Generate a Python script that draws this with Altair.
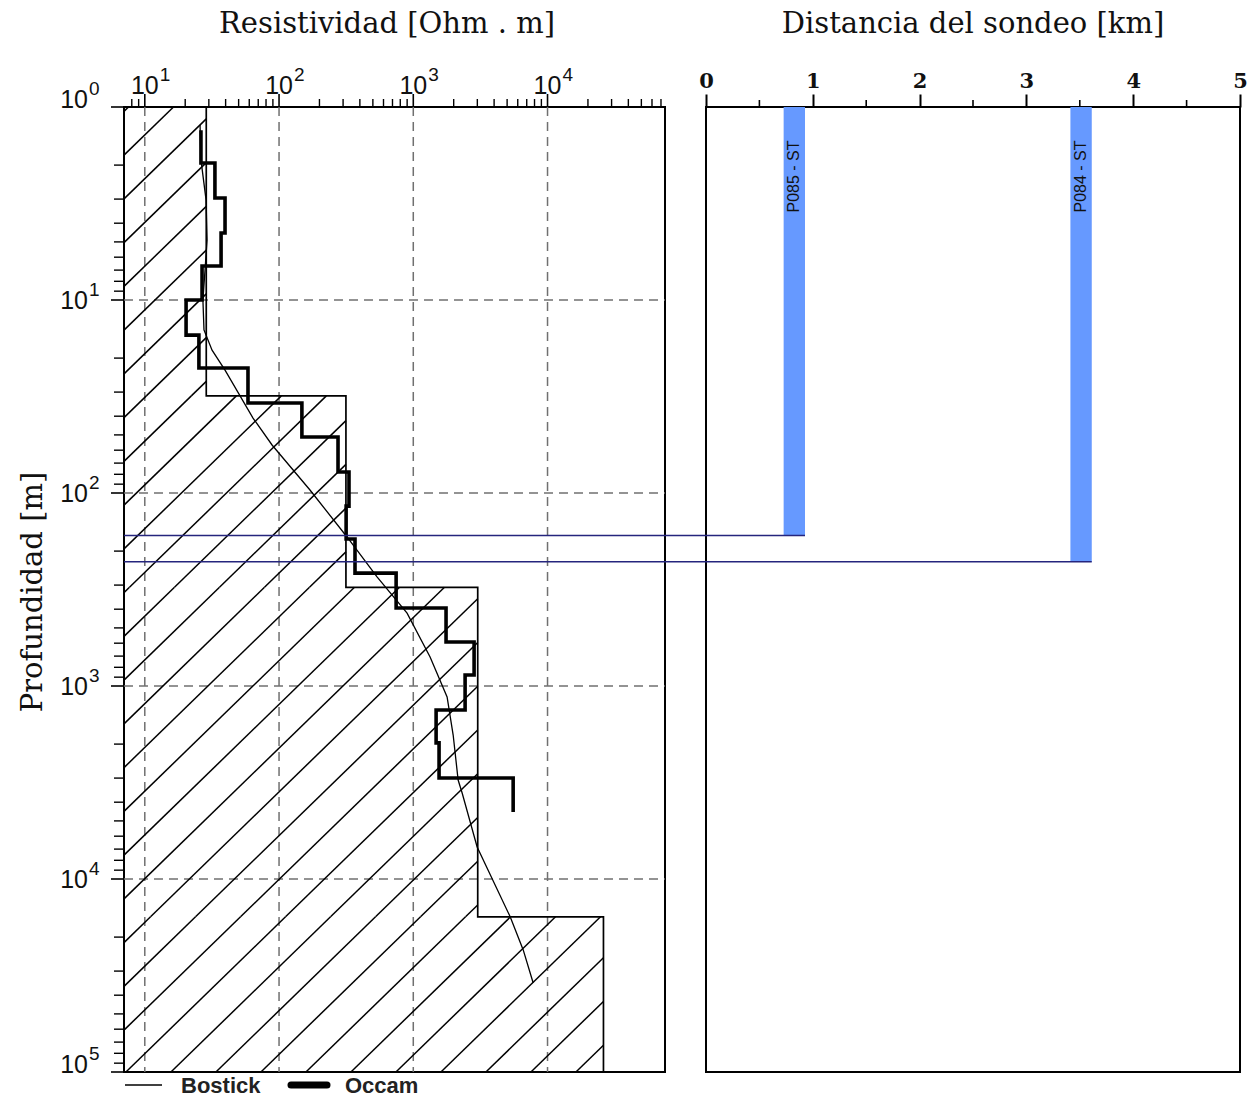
import math
import altair as alt
import pandas as pd

# ---------------------------------------------------------------- data
# Layered resistivity model (hatched blocks): resistivity [Ohm.m] and layer bottom [m]
MODEL_RES = [28.7, 315, 3020, 26100]
MODEL_BOTTOM = [31.4, 308, 15700, 100000]

# Occam inversion: one resistivity per layer, layer boundaries (top of first .. bottom of last)
OCCAM_RES = [26.2, 33.3, 39.6, 37.0, 26.7, 20.3, 25.3, 58.7, 148, 275,
             332, 316, 368, 745, 1754, 2838, 2432, 1479, 1556, 5546]
OCCAM_DEPTH = [1.32, 1.95, 2.96, 4.5, 6.67, 10, 15.2, 22.5, 34.2, 51.3, 77.8,
               117, 173, 260, 394, 592, 877, 1331, 1972, 2999, 4498]

# Bostick transform curve
BOSTICK_RES = [25.8, 26.2, 28.6, 29.1, 28.1, 27.1, 27.6, 31.7, 39.6, 64, 88.7,
               170, 321, 537, 899, 1334, 1786, 1982, 2158, 2312, 2990, 5270, 6590, 7820]
BOSTICK_DEPTH = [1.24, 1.88, 3.03, 4.89, 7.0, 10, 14.3, 18.2, 23.1, 40.9, 56.4,
                 96.5, 169, 272, 419, 707, 1140, 1795, 3070, 3585, 6820, 15700, 23300, 34600]

# Soundings along the profile
STATIONS = ["P085 - ST", "P084 - ST"]
STATION_KM_START = [0.727, 3.412]
STATION_KM_END = [0.927, 3.612]
STATION_DEPTH = [166, 227]

# Axis ticks
RES_MAJOR = [10, 100, 1000, 10000]
RES_MINOR = [8, 9] + [m * 10 ** k for k in (1, 2, 3) for m in range(2, 10)] + [m * 10000 for m in range(2, 8)]
DEPTH_MAJOR = [1, 10, 100, 1000, 10000, 100000]
DEPTH_MINOR = [m * 10 ** k for k in range(0, 5) for m in range(2, 10)]
RES_EXP = ["1", "2", "3", "4"]
DEPTH_EXP = ["0", "1", "2", "3", "4", "5"]
KM_MAJOR = [0, 1, 2, 3, 4, 5]
KM_MINOR = [0.5, 1.5, 2.5, 3.5, 4.5]

# ---------------------------------------------------------------- geometry
W_LEFT, W_RIGHT, H = 541, 534, 965
GAP = 41
R_MIN, R_MAX = 7, 75000
D_MIN, D_MAX = 1, 100000

LX0, LX1 = math.log10(R_MIN), math.log10(R_MAX)
LY0, LY1 = math.log10(D_MIN), math.log10(D_MAX)


def px_x(r):
    return W_LEFT * (math.log10(r) - LX0) / (LX1 - LX0)


def px_y(d):
    return H * (math.log10(d) - LY0) / (LY1 - LY0)


def inv_x(p):
    return 10 ** (LX0 + p / W_LEFT * (LX1 - LX0))


def inv_y(p):
    return 10 ** (LY0 + p / H * (LY1 - LY0))


# Hatching of the model blocks: oblique lines x/HX + y/HY = n + phase (in plot pixels),
# clipped to each block, then mapped back to data units.
HX, HY, PHASE = 45.0, 43.75, 0.1
tops = [D_MIN] + MODEL_BOTTOM[:-1]
hatch_rows = []
n_max = int(W_LEFT / HX + H / HY) + 3
for res, top, bot in zip(MODEL_RES, tops, MODEL_BOTTOM):
    xr, yt, yb = px_x(res), px_y(top), px_y(bot)
    for n in range(n_max):
        c = n + PHASE
        y1 = max(yt, HY * (c - xr / HX))
        y2 = min(yb, HY * c)
        if y2 - y1 > 0.5:
            x1 = min(max(HX * (c - y1 / HY), 0), xr)
            x2 = min(max(HX * (c - y2 / HY), 0), xr)
            hatch_rows.append({"r1": inv_x(x1), "d1": inv_y(y1), "r2": inv_x(x2), "d2": inv_y(y2)})
hatch_df = pd.DataFrame(hatch_rows)

model_rows = []
for i, (res, top, bot) in enumerate(zip(MODEL_RES, tops, MODEL_BOTTOM)):
    model_rows.append({"i": 2 * i, "r": res, "d": top})
    model_rows.append({"i": 2 * i + 1, "r": res, "d": bot})
model_df = pd.DataFrame(model_rows)

occam_rows = []
for i, res in enumerate(OCCAM_RES):
    occam_rows.append({"i": 2 * i, "r": res, "d": OCCAM_DEPTH[i]})
    occam_rows.append({"i": 2 * i + 1, "r": res, "d": OCCAM_DEPTH[i + 1]})
occam_df = pd.DataFrame(occam_rows)

bostick_df = pd.DataFrame({"i": range(len(BOSTICK_RES)), "r": BOSTICK_RES, "d": BOSTICK_DEPTH})

st_df = pd.DataFrame({
    "name": STATIONS,
    "k0": STATION_KM_START,
    "k1": STATION_KM_END,
    "kc": [(a + b) / 2 for a, b in zip(STATION_KM_START, STATION_KM_END)],
    "d": STATION_DEPTH,
})

# ---------------------------------------------------------------- scales
xs = alt.Scale(type="log", domain=[R_MIN, R_MAX], nice=False)
ys = alt.Scale(type="log", domain=[D_MIN, D_MAX], nice=False, reverse=True)
ks = alt.Scale(domain=[0, 5], nice=False, zero=False)

SANS = "Liberation Sans"
SERIF = "DejaVu Serif"

X = lambda f: alt.X(f, type="quantitative", scale=xs, axis=None)
Y = lambda f: alt.Y(f, type="quantitative", scale=ys, axis=None)

# ---------------------------------------------------------------- left panel
vgrid = alt.Chart(pd.DataFrame({"r": RES_MAJOR})).mark_rule(
    color="#707070", strokeWidth=1.5, strokeDash=[9, 6]
).encode(x=X("r"), y=alt.value(0), y2=alt.value(H))

hgrid = alt.Chart(pd.DataFrame({"d": DEPTH_MAJOR[1:-1]})).mark_rule(
    color="#707070", strokeWidth=1.5, strokeDash=[9, 6]
).encode(y=Y("d"), x=alt.value(0), x2=alt.value(W_LEFT))

hatch = alt.Chart(hatch_df).mark_rule(color="black", strokeWidth=1.5).encode(
    x=X("r1"), x2=alt.X2("r2"), y=Y("d1"), y2=alt.Y2("d2")
)

model = alt.Chart(model_df).mark_line(color="black", strokeWidth=1.7).encode(
    x=X("r"), y=Y("d"), order="i:Q"
)

bostick = alt.Chart(bostick_df).mark_line(color="black", strokeWidth=1.3).encode(
    x=X("r"), y=Y("d"), order="i:Q"
)

occam = alt.Chart(occam_df).mark_line(color="black", strokeWidth=3.6, strokeJoin="miter").encode(
    x=X("r"), y=Y("d"), order="i:Q"
)

# ticks drawn outward from the frame
xt_major = alt.Chart(pd.DataFrame({"r": RES_MAJOR})).mark_rule(color="black", strokeWidth=1.6).encode(
    x=X("r"), y=alt.value(0), y2=alt.value(-13))
xt_minor = alt.Chart(pd.DataFrame({"r": RES_MINOR})).mark_rule(color="black", strokeWidth=1.4).encode(
    x=X("r"), y=alt.value(0), y2=alt.value(-8))
yt_major = alt.Chart(pd.DataFrame({"d": DEPTH_MAJOR})).mark_rule(color="black", strokeWidth=1.6).encode(
    y=Y("d"), x=alt.value(0), x2=alt.value(-13))
yt_minor = alt.Chart(pd.DataFrame({"d": DEPTH_MINOR})).mark_rule(color="black", strokeWidth=1.4).encode(
    y=Y("d"), x=alt.value(0), x2=alt.value(-10))

# tick labels as 10 with a raised exponent
xlab_df = pd.DataFrame({"r": RES_MAJOR, "e": RES_EXP})
xlab_base = alt.Chart(xlab_df).mark_text(
    font=SANS, fontSize=25, align="center", baseline="alphabetic", color="#111"
).encode(x=X("r"), y=alt.value(-13.5), text=alt.value("10"))
xlab_exp = alt.Chart(xlab_df).mark_text(
    font=SANS, fontSize=19, align="left", baseline="alphabetic", dx=15, color="#111"
).encode(x=X("r"), y=alt.value(-26.5), text="e:N")

ylab_df = pd.DataFrame({"d": DEPTH_MAJOR, "e": DEPTH_EXP})
inner = ylab_df.iloc[1:-1]
ends = ylab_df.iloc[[0, -1]]
ylab_base = alt.Chart(inner).mark_text(
    font=SANS, fontSize=25, align="right", baseline="alphabetic", dy=9, color="#111"
).encode(y=Y("d"), x=alt.value(-36), text=alt.value("10"))
ylab_exp = alt.Chart(inner).mark_text(
    font=SANS, fontSize=19, align="left", baseline="alphabetic", dy=-4, color="#111"
).encode(y=Y("d"), x=alt.value(-35), text="e:N")
ylab_base_end = alt.Chart(ends).mark_text(
    font=SANS, fontSize=25, align="right", baseline="alphabetic", dy=0.5, color="#111"
).encode(y=Y("d"), x=alt.value(-36), text=alt.value("10"))
ylab_exp_end = alt.Chart(ends).mark_text(
    font=SANS, fontSize=19, align="left", baseline="alphabetic", dy=-12.5, color="#111"
).encode(y=Y("d"), x=alt.value(-35), text="e:N")

left_title = alt.Chart(pd.DataFrame({"t": ["Resistividad [Ohm . m]"]})).mark_text(
    font=SERIF, fontSize=29, align="center", baseline="alphabetic", color="#111"
).encode(x=alt.value(263), y=alt.value(-74), text="t:N")

y_title = alt.Chart(pd.DataFrame({"t": ["Profundidad [m]"]})).mark_text(
    font=SERIF, fontSize=29, align="center", baseline="middle", angle=270, color="#111"
).encode(x=alt.value(-91), y=alt.value(485), text="t:N")

# legend under the panel
leg_thin = alt.Chart(pd.DataFrame({"s": ["Bostick"]})).mark_rule(color="black", strokeWidth=1.5).encode(
    x=alt.value(1), x2=alt.value(38), y=alt.value(978))
leg_thick = alt.Chart(pd.DataFrame({"s": ["Occam"]})).mark_rule(
    color="black", strokeWidth=7, strokeCap="round").encode(
    x=alt.value(167), x2=alt.value(203), y=alt.value(978))
leg_txt1 = alt.Chart(pd.DataFrame({"s": ["Bostick"]})).mark_text(
    font=SANS, fontSize=22, fontWeight="bold", align="left", baseline="alphabetic", color="#222"
).encode(x=alt.value(57), y=alt.value(986), text="s:N")
leg_txt2 = alt.Chart(pd.DataFrame({"s": ["Occam"]})).mark_text(
    font=SANS, fontSize=22, fontWeight="bold", align="left", baseline="alphabetic", color="#222"
).encode(x=alt.value(221), y=alt.value(986), text="s:N")

left = alt.layer(
    vgrid, hgrid, hatch, model, bostick, occam,
    xt_major, xt_minor, yt_major, yt_minor,
    xlab_base, xlab_exp, ylab_base, ylab_exp, ylab_base_end, ylab_exp_end,
    left_title, y_title, leg_thin, leg_thick, leg_txt1, leg_txt2,
).properties(width=W_LEFT, height=H)

# ---------------------------------------------------------------- right panel
km_axis = alt.Axis(
    orient="top", values=KM_MAJOR, title=None, grid=False, domain=False,
    tickSize=13, tickWidth=2, tickColor="black",
    labelFont=SERIF, labelFontWeight="bold", labelFontSize=21, labelColor="#111",
    labelBaseline="alphabetic", labelPadding=6.5, labelFlush=False, labelOverlap=False, format="d",
)

bars = alt.Chart(st_df).mark_rect(color="#6699ff").encode(
    x=alt.X("k0:Q", scale=ks, axis=km_axis), x2="k1:Q",
    y=alt.Y("d:Q", scale=ys, axis=None), y2=alt.value(0),
)

bar_text = alt.Chart(st_df).mark_text(
    font=SANS, fontSize=16, angle=270, align="center", baseline="middle", color="#111"
).encode(x=alt.X("kc:Q", scale=ks), y=alt.value(69.5), text="name:N")

links = alt.Chart(st_df).mark_rule(color="#25257d", strokeWidth=1.5).encode(
    x=alt.X("k1:Q", scale=ks), x2=alt.value(-(W_LEFT + GAP)),
    y=alt.Y("d:Q", scale=ys, axis=None),
)

km_minor = alt.Chart(pd.DataFrame({"k": KM_MINOR})).mark_rule(color="black", strokeWidth=1.6).encode(
    x=alt.X("k:Q", scale=ks), y=alt.value(0), y2=alt.value(-7))

right_title = alt.Chart(pd.DataFrame({"t": ["Distancia del sondeo [km]"]})).mark_text(
    font=SERIF, fontSize=29, align="center", baseline="alphabetic", color="#111"
).encode(x=alt.value(267), y=alt.value(-74), text="t:N")

right = alt.layer(bars, bar_text, links, km_minor, right_title).properties(width=W_RIGHT, height=H)

chart = alt.hconcat(left, right, spacing=GAP, bounds="flush").properties(
    autosize=alt.AutoSizeParams(type="none"),
    padding={"left": 124, "top": 107, "right": 1254 - 124, "bottom": 1097 - 107},
    background="white",
).configure_view(stroke="black", strokeWidth=2)

chart.save("out.html", embed_options={"renderer": "svg", "actions": False})
